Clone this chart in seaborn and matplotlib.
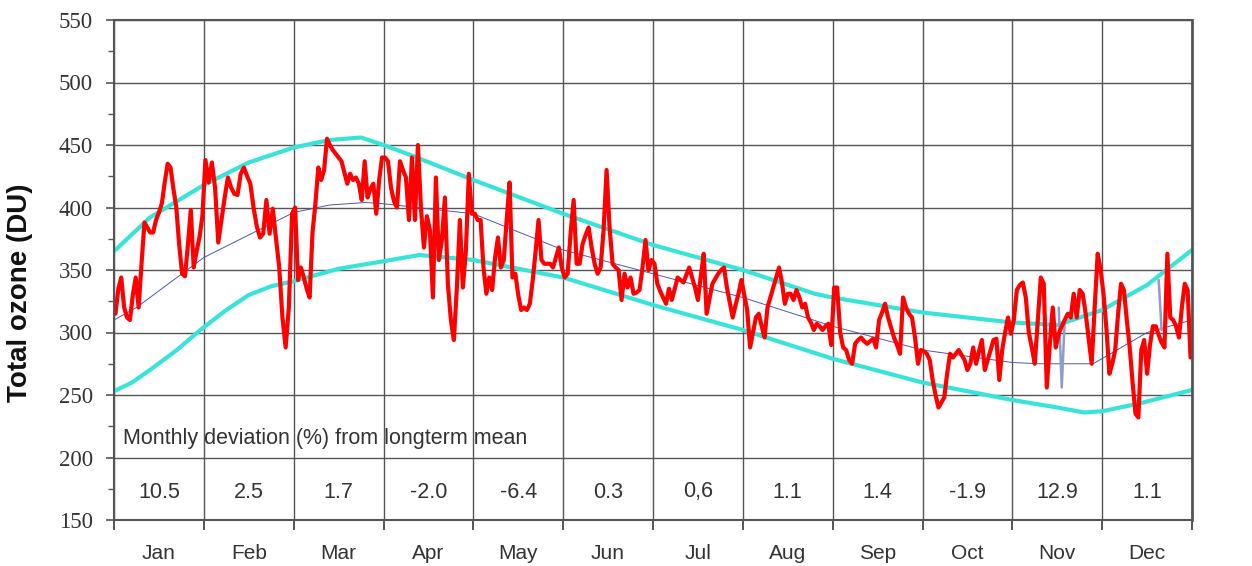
import numpy as np
import pandas as pd
import matplotlib
matplotlib.use("Agg")
import matplotlib.pyplot as plt
import seaborn as sns

# ---------------- data ----------------
months = ["Jan", "Feb", "Mar", "Apr", "May", "Jun", "Jul", "Aug", "Sep", "Oct", "Nov", "Dec"]
days_in_month = [31, 28, 31, 30, 31, 30, 31, 31, 30, 31, 30, 31]

ozone_jan = [315, 335, 344, 320, 312, 310, 330, 344, 320, 355, 388, 384, 380, 380, 390, 396,
             403, 420, 435, 432, 415, 400, 370, 347, 345, 370, 398, 352, 365, 376, 393]
ozone_feb = [438, 420, 436, 416, 372, 390, 408, 424, 416, 411, 410, 427, 432, 425, 419, 400,
             385, 376, 379, 406, 379, 399, 375, 352, 312, 288, 320, 395]
ozone_mar = [400, 342, 352, 344, 335, 328, 380, 403, 432, 422, 430, 455, 450, 446, 443, 440,
             437, 428, 419, 427, 422, 424, 419, 406, 437, 408, 415, 419, 395, 422, 440]
ozone_apr = [440, 437, 416, 405, 400, 437, 430, 424, 390, 440, 390, 450, 400, 368, 393, 382,
             328, 424, 358, 374, 408, 339, 310, 294, 336, 390, 336, 365, 427, 395]
ozone_may = [395, 390, 390, 352, 331, 344, 334, 360, 376, 352, 358, 390, 420, 344, 347, 330,
             318, 320, 318, 323, 342, 365, 390, 358, 355, 355, 355, 352, 360, 368, 352]
ozone_jun = [344, 347, 380, 406, 355, 355, 371, 378, 384, 368, 355, 347, 352, 382, 430, 384,
             355, 352, 350, 326, 347, 336, 344, 331, 332, 334, 352, 374, 350, 358]
ozone_jul = [355, 339, 333, 328, 323, 335, 326, 335, 344, 342, 340, 346, 352, 344, 336, 326,
             345, 363, 315, 327, 339, 343, 347, 350, 352, 336, 324, 312, 322, 331, 342]
ozone_aug = [330, 318, 288, 300, 312, 315, 305, 296, 320, 328, 336, 344, 352, 340, 323, 331,
             331, 326, 334, 328, 320, 323, 312, 308, 302, 307, 305, 302, 305, 307, 290]
ozone_sep = [336, 336, 300, 288, 286, 278, 275, 291, 294, 296, 293, 291, 293, 295, 288, 310,
             316, 323, 312, 304, 296, 290, 283, 328, 320, 315, 312, 296, 275, 286]
ozone_oct = [285, 283, 278, 262, 250, 240, 244, 248, 267, 283, 280, 283, 286, 282, 278, 270,
             275, 288, 275, 285, 294, 270, 278, 286, 294, 295, 262, 286, 300, 312, 299]
ozone_nov = [310, 334, 338, 340, 328, 300, 288, 275, 310, 344, 339, 256, 290, 320, 288, 299,
             305, 310, 315, 312, 331, 312, 334, 331, 315, 295, 275, 320, 363, 350]
ozone_dec = [330, 302, 267, 275, 286, 315, 339, 334, 310, 288, 260, 235, 232, 286, 294, 267,
             290, 305, 305, 298, 292, 288, 363, 312, 310, 305, 296, 320, 339, 334, 280]

# longterm envelope and mean (x in months from 1 Jan)
upper_x = [0.0, 0.4, 1.0, 1.5, 2.0, 2.4, 2.75, 3.0, 3.3, 4.0, 5.0, 6.0, 7.0, 7.8, 8.0, 9.0,
           10.0, 10.5, 11.0, 11.5, 12.0]
upper_v = [365, 392, 418, 436, 448, 454, 456, 450, 442, 422, 395, 370, 350, 331, 328, 316,
           308, 306, 318, 338, 366]
lower_x = [0.0, 0.2, 0.4, 0.7, 0.96, 1.25, 1.5, 1.75, 2.0, 2.5, 3.0, 3.4, 4.0, 5.0, 6.0, 7.0,
           8.0, 9.0, 10.0, 10.5, 10.8, 11.0, 11.4, 12.0]
lower_v = [253, 260, 270, 286, 302, 318, 330, 337, 341, 351, 357, 362, 358, 344, 322, 302,
           279, 260, 246, 240, 236, 237, 243, 254]
mean_x = [0.0, 0.25, 1.0, 2.0, 2.4, 2.8, 3.0, 4.0, 5.0, 6.0, 7.0, 8.0, 9.0, 10.0, 10.3,
          10.9, 11.5, 12.0]
mean_v = [310, 320, 360, 396, 402, 404, 403, 395, 366, 347, 328, 305, 286, 276, 275,
          275, 300, 310]

# secondary (gap) series, Nov and Dec
aux_nov_days = [16, 17, 18]
aux_nov_vals = [320, 256, 310]
aux_dec_days = [20, 21]
aux_dec_vals = [342, 302]

deviation = ["10.5", "2.5", "1.7", "-2.0", "-6.4", "0.3", "0,6", "1.1", "1.4", "-1.9", "12.9", "1.1"]
dev_title = "Monthly deviation (%) from longterm mean"
y_label = "Total ozone (DU)"

# ---------------- build frames ----------------
monthly = [ozone_jan, ozone_feb, ozone_mar, ozone_apr, ozone_may, ozone_jun,
           ozone_jul, ozone_aug, ozone_sep, ozone_oct, ozone_nov, ozone_dec]
xs, vs = [], []
for m, vals in enumerate(monthly):
    n = days_in_month[m]
    xs.extend(m + (np.arange(n) + 0.5) / n)
    vs.extend(vals)
daily = pd.DataFrame({"x": xs, "ozone": vs})

def day_x(month_idx, days):
    n = days_in_month[month_idx]
    return [month_idx + (d - 0.5) / n for d in days]

# ---------------- plot ----------------
sns.set_theme(style="white")
plt.rcParams["font.family"] = ["Liberation Sans", "DejaVu Sans"]

fig = plt.figure(figsize=(12.52, 5.66), dpi=100)
ax = fig.add_axes([114 / 1252, 1 - 520 / 566, (1192 - 114) / 1252, 500 / 566])

cyan = "#38e4da"
sns.lineplot(x=upper_x, y=upper_v, ax=ax, color=cyan, lw=3.0, estimator=None, sort=False)
sns.lineplot(x=lower_x, y=lower_v, ax=ax, color=cyan, lw=3.0, estimator=None, sort=False)
sns.lineplot(x=mean_x, y=mean_v, ax=ax, color="#4a58b0", lw=0.7, estimator=None, sort=False)
sns.lineplot(x=day_x(10, aux_nov_days), y=aux_nov_vals, ax=ax, color="#8e9ccc", lw=1.8,
             estimator=None, sort=False)
sns.lineplot(x=day_x(11, aux_dec_days), y=aux_dec_vals, ax=ax, color="#8e9ccc", lw=1.8,
             estimator=None, sort=False)
sns.lineplot(data=daily, x="x", y="ozone", ax=ax, color="#ff0000", lw=3.0,
             estimator=None, sort=False)

ax.set_xlim(0, 12)
ax.set_ylim(150, 550)

# y axis
ax.set_yticks(np.arange(150, 551, 50))
ax.set_yticks(np.arange(175, 550, 50), minor=True)
ax.tick_params(axis="y", which="major", direction="out", length=6, width=1.2, color="#555555",
               pad=9, left=True)
ax.tick_params(axis="y", which="minor", direction="out", length=4, width=1.0, color="#555555",
               left=True)
for lab in ax.get_yticklabels():
    lab.set_fontfamily("Liberation Serif")
    lab.set_fontsize(16.5)
    lab.set_color("#333333")

# x axis: boundary ticks (major), labels centered (minor)
ax.set_xticks(np.arange(0, 13, 1))
ax.set_xticklabels([])
ax.set_xticks(np.arange(12) + 0.5, minor=True)
ax.set_xticklabels(months, minor=True)
ax.tick_params(axis="x", which="major", direction="out", length=7, width=1.4, color="#555555",
               bottom=True)
ax.tick_params(axis="x", which="minor", length=0, pad=17, labelsize=15, labelcolor="#333333")

ax.grid(True, which="major", axis="both", color="#555555", lw=1.0)
ax.set_axisbelow(True)
for s in ax.spines.values():
    s.set_color("#555555")
    s.set_linewidth(1.5)
ax.spines["right"].set_linewidth(2.0)

ax.set_xlabel("")
ax.set_ylabel(y_label, fontsize=20, fontweight="bold", color="#111111")
ax.yaxis.set_label_coords(-0.075, 0.455)

ax.text(0.1, 215.5, dev_title, fontsize=15.5, color="#333333", va="center", ha="left")
for m, d in enumerate(deviation):
    ax.text(m + 0.5, 168, d, fontsize=15.5, color="#333333", va="baseline", ha="center")

fig.savefig("out.png", dpi=100)
